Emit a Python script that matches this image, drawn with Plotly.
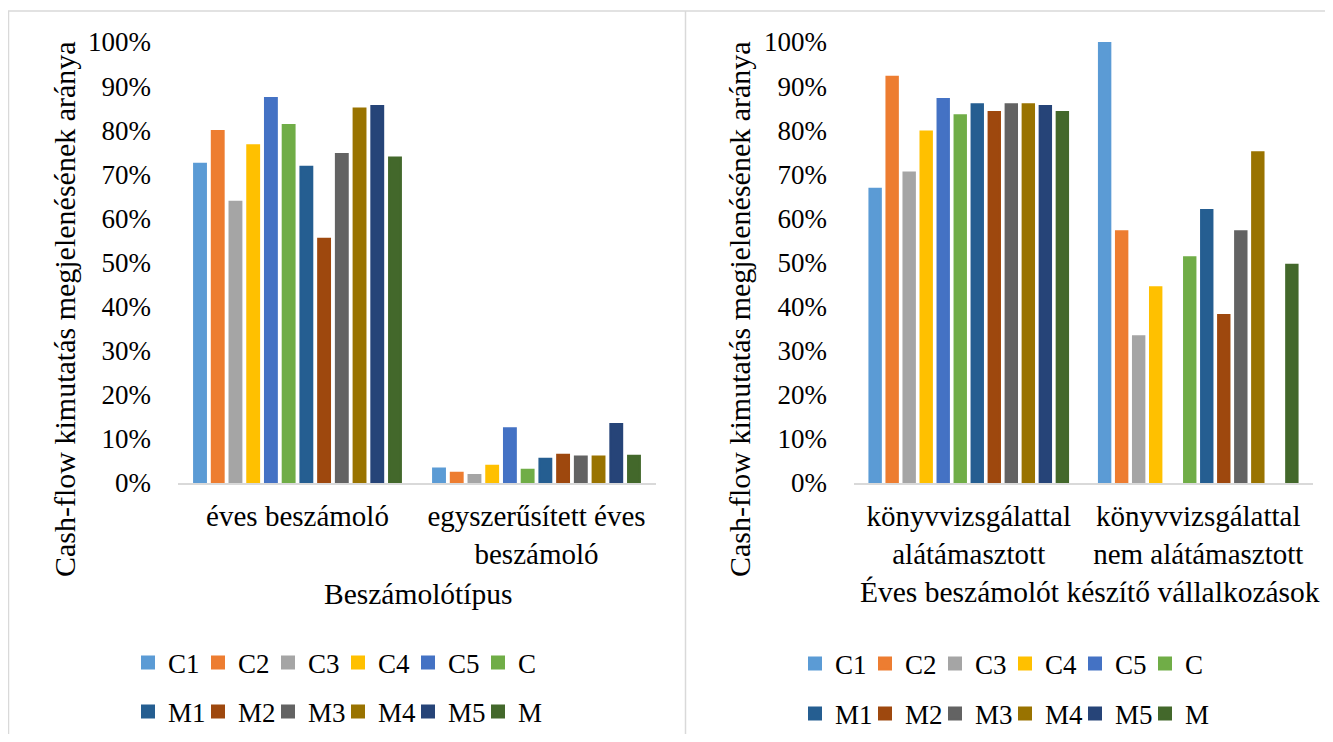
import plotly.graph_objects as go

# The page body has an 8px margin; the figure is sized so the page fits the window.
PAGE_OFF = 8
W, H = 1333 - 2 * PAGE_OFF, 742 - 2 * PAGE_OFF

series_names = ["C1", "C2", "C3", "C4", "C5", "C", "M1", "M2", "M3", "M4", "M5", "M"]
series_colors = ["#5B9BD5", "#ED7D31", "#A5A5A5", "#FFC000", "#4472C4", "#70AD47",
                 "#255E91", "#9E480E", "#636363", "#997300", "#264478", "#43682B"]

# Left chart: report type
left_categories = ["éves beszámoló", "egyszerűsített éves<br>beszámoló"]
left_values = {
    "C1": [0.724, 0.033],
    "C2": [0.798, 0.023],
    "C3": [0.638, 0.018],
    "C4": [0.766, 0.039],
    "C5": [0.873, 0.124],
    "C":  [0.812, 0.030],
    "M1": [0.717, 0.055],
    "M2": [0.554, 0.064],
    "M3": [0.746, 0.060],
    "M4": [0.849, 0.060],
    "M5": [0.855, 0.134],
    "M":  [0.738, 0.062],
}

# Right chart: annual-report firms, audited vs not audited
right_categories = ["könyvvizsgálattal<br>alátámasztott", "könyvvizsgálattal<br>nem alátámasztott"]
right_values = {
    "C1": [0.667, 1.000],
    "C2": [0.921, 0.571],
    "C3": [0.704, 0.333],
    "C4": [0.797, 0.444],
    "C5": [0.871, None],
    "C":  [0.834, 0.512],
    "M1": [0.859, 0.619],
    "M2": [0.841, 0.381],
    "M3": [0.859, 0.571],
    "M4": [0.859, 0.750],
    "M5": [0.855, None],
    "M":  [0.841, 0.495],
}

y_title = "Cash-flow kimutatás megjelenésének aránya"
left_x_title = "Beszámolótípus"
right_x_title = "Éves beszámolót készítő vállalkozások"

FONT = "Liberation Serif, Times New Roman, serif"

fig = go.Figure()

for i, name in enumerate(series_names):
    leg_left = "legend" if name.startswith("C") else "legend2"
    leg_right = "legend3" if name.startswith("C") else "legend4"
    fig.add_trace(go.Bar(
        x=left_categories, y=left_values[name], name=name,
        marker=dict(color=series_colors[i], line=dict(width=2, color=series_colors[i])),
        xaxis="x", yaxis="y", legend=leg_left, legendwidth=25,
    ))
    fig.add_trace(go.Bar(
        x=right_categories, y=right_values[name], name=name,
        marker=dict(color=series_colors[i], line=dict(width=2, color=series_colors[i])),
        xaxis="x2", yaxis="y2", legend=leg_right, legendwidth=25,
    ))

def px_x(p):
    return (p - PAGE_OFF) / W

def px_y(p):
    return (H - (p - PAGE_OFF)) / H

ydom = [px_y(483), px_y(42)]

yaxis_common = dict(
    range=[0, 1], dtick=0.1, tickformat=".0%", showgrid=False, zeroline=False,
    showline=False, ticks="", ticklabelstandoff=26, automargin=False,
    tickfont=dict(family=FONT, size=27, color="black"), domain=ydom,
)
xaxis_common = dict(
    showgrid=False, zeroline=False, showline=True, linecolor="#D9D9D9", linewidth=2,
    ticks="", tickfont=dict(family=FONT, size=29, color="black"), ticklabelstandoff=6,
    automargin=False,
)

fig.update_layout(
    width=W, height=H,
    margin=dict(l=0, r=0, t=0, b=0, autoexpand=False),
    paper_bgcolor="white", plot_bgcolor="white",
    barmode="group", bargap=0.11, bargroupgap=0.33,
    font=dict(family=FONT, size=27, color="black"),
    xaxis=dict(domain=[px_x(178), px_x(656)], anchor="y", **xaxis_common),
    yaxis=dict(anchor="x", **yaxis_common),
    xaxis2=dict(domain=[px_x(854), px_x(1313)], anchor="y2", **xaxis_common),
    yaxis2=dict(anchor="x2", **yaxis_common),
)

leg_font = dict(family=FONT, size=27, color="black")
leg_common = dict(orientation="h", xanchor="left", yanchor="middle", font=leg_font,
                  bgcolor="rgba(0,0,0,0)", borderwidth=0, traceorder="normal",
                  entrywidthmode="pixels")
fig.update_layout(
    legend=dict(x=px_x(128), y=px_y(663), **leg_common),
    legend2=dict(x=px_x(128), y=px_y(712), **leg_common),
    legend3=dict(x=px_x(795), y=px_y(664), **leg_common),
    legend4=dict(x=px_x(795), y=px_y(714), **leg_common),
)

ytitle_font = dict(family=FONT, size=30, color="black")
xtitle_font = dict(family=FONT, size=29.5, color="black")
fig.update_layout(annotations=[
    dict(text=y_title, x=px_x(64), y=px_y(309), xref="paper", yref="paper",
         textangle=-90, showarrow=False, font=ytitle_font, xanchor="center", yanchor="middle"),
    dict(text=y_title, x=px_x(739), y=px_y(309), xref="paper", yref="paper",
         textangle=-90, showarrow=False, font=ytitle_font, xanchor="center", yanchor="middle"),
    dict(text=left_x_title, x=px_x(418), y=px_y(594), xref="paper", yref="paper",
         showarrow=False, font=xtitle_font, xanchor="center", yanchor="middle"),
    dict(text=right_x_title, x=px_x(1090), y=px_y(592), xref="paper", yref="paper",
         showarrow=False, font=xtitle_font, xanchor="center", yanchor="middle"),
])

border = dict(color="#D9D9D9", width=1.5)
fig.update_layout(shapes=[
    dict(type="line", xref="paper", yref="paper", x0=px_x(8), x1=1, y0=px_y(11), y1=px_y(11), line=border),
    dict(type="line", xref="paper", yref="paper", x0=px_x(8.5), x1=px_x(8.5), y0=px_y(11), y1=0, line=border),
    dict(type="line", xref="paper", yref="paper", x0=px_x(685.5), x1=px_x(685.5), y0=px_y(11), y1=0, line=border),
])

fig.write_html("out.html")
